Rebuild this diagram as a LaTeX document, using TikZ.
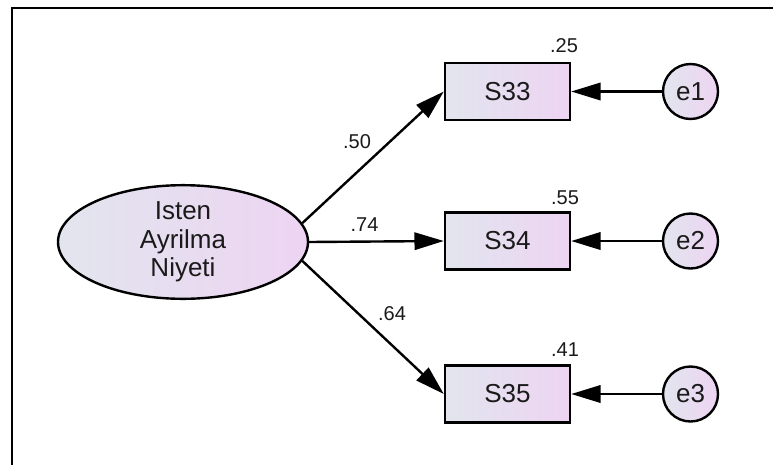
\documentclass[tikz,border=0pt]{standalone}
\usepackage{fontspec}
\setmainfont{Liberation Sans}
\usetikzlibrary{arrows.meta,shapes.geometric}
\definecolor{gl}{HTML}{E2E5EE}
\definecolor{gr}{HTML}{EDD4F2}
\definecolor{ink}{HTML}{1A1A1A}
\begin{document}
\begin{tikzpicture}[x=0.75pt,y=-0.75pt,
  every node/.style={font=\fontsize{19.5}{21.4}\selectfont,text=ink},
  latent/.style={ellipse,draw,line width=1.8pt,left color=gl,right color=gr,minimum width=187.5pt,minimum height=82.5pt,inner sep=0pt,align=center},
  obs/.style={rectangle,draw,line width=1.8pt,left color=gl,right color=gr,minimum width=93.75pt,minimum height=42.75pt,inner sep=0pt},
  err/.style={circle,draw,line width=1.8pt,left color=gl,right color=gr,minimum size=41.25pt,inner sep=0pt},
  lbl/.style={font=\fontsize{15}{17}\selectfont,inner sep=0pt},
  arr/.style={line width=1.8pt,-{Triangle[length=22pt,width=13pt]}}
]
\useasboundingbox (0,0) rectangle (773,464);
\fill[white] (0,0) rectangle (773,464);
\draw[line width=1.8pt] (12,470) -- (12,8) -- (780,8);

\node[latent] (F) at (183,242) {Isten\\Ayrilma\\Niyeti};
\node[obs] (S33) at (507.5,91.5) {S33};
\node[obs] (S34) at (507.5,241) {S34};
\node[obs] (S35) at (507.5,394) {S35};
\node[err] (e1) at (690.5,91.5) {e1};
\node[err] (e2) at (690.5,241) {e2};
\node[err] (e3) at (690.5,394) {e3};

\draw[arr] (F.9.5) -- (S33.west);
\draw[arr] (F.east) -- (S34.west);
\draw[arr] (F.-9.5) -- (S35.west);
\draw[arr] (e1) -- (S33);
\draw[arr] (e2) -- (S34);
\draw[arr] (e3) -- (S35);

\node[lbl] (l1) at (564,46) {.25};
\node[lbl] (l2) at (565,197.5) {.55};
\node[lbl] (l3) at (565,350) {.41};
\node[lbl] (l4) at (357,142) {.50};
\node[lbl] (l5) at (364.5,225) {.74};
\node[lbl] (l6) at (392,314) {.64};
\end{tikzpicture}
\end{document}
